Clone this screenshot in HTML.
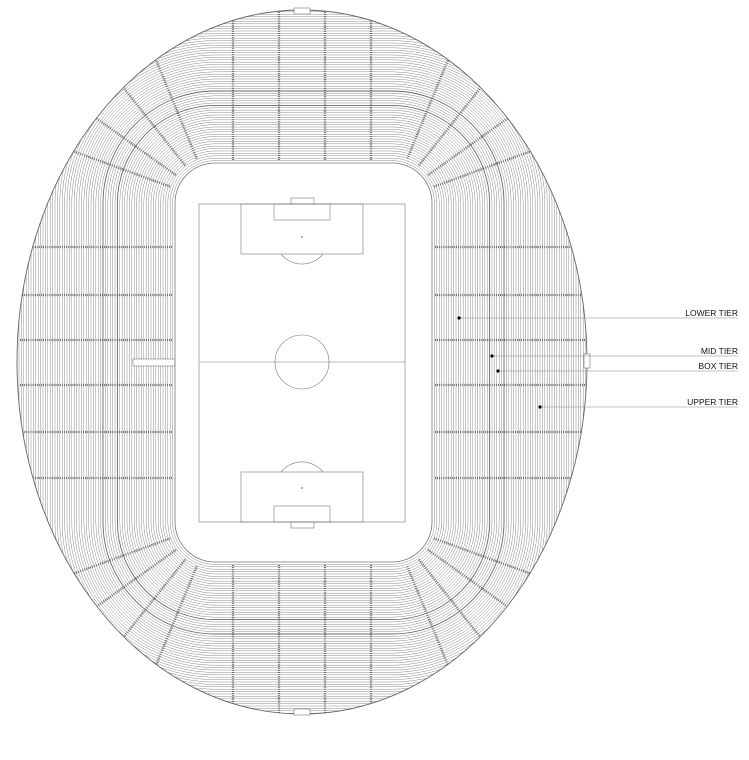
<!DOCTYPE html>
<html><head><meta charset="utf-8"><style>
html,body{margin:0;padding:0;background:#fff;width:749px;height:760px;overflow:hidden}
svg{display:block}
text{font-family:"Liberation Sans",sans-serif;font-size:8.5px;fill:#111}
</style></head><body>
<svg id="s" width="749" height="760" viewBox="0 0 749 760" xmlns="http://www.w3.org/2000/svg">
<defs><clipPath id="cp"><ellipse cx="302" cy="362" rx="285" ry="352"/></clipPath></defs>
<g clip-path="url(#cp)">
<g id="rows" fill="none" stroke="#8a8a8a" stroke-width="0.5"></g>
<g id="aisles" fill="none" stroke="#666" stroke-width="2.3" stroke-dasharray="0.9 1.2"></g>
</g>
<ellipse cx="302" cy="362" rx="285" ry="352" fill="none" stroke="#666" stroke-width="0.9"/>
<g fill="#fff" stroke="#777" stroke-width="0.6">
<rect x="133" y="359" width="42" height="7"/>
<rect x="294" y="8" width="16" height="6"/>
<rect x="294" y="709" width="16" height="6"/>
<rect x="584" y="354" width="6" height="14"/>
</g>
<rect x="175" y="163" width="257" height="399" rx="40" fill="#fff" stroke="#777" stroke-width="0.8"/>
<g fill="none" stroke="#777" stroke-width="0.6">
<rect x="199" y="204" width="206" height="318"/>
<line x1="199" y1="362" x2="405" y2="362"/>
<circle cx="302" cy="362" r="27"/>
<rect x="241" y="204" width="122" height="50"/>
<rect x="274" y="204" width="56" height="16"/>
<rect x="291" y="198" width="23" height="6"/>
<path d="M281 254 A27 27 0 0 0 323 254"/>
<rect x="241" y="472" width="122" height="50"/>
<rect x="274" y="506" width="56" height="16"/>
<rect x="291" y="522" width="23" height="6"/>
<path d="M281 472 A27 27 0 0 1 323 472"/>
</g>
<circle cx="302" cy="237" r="0.8" fill="#555"/>
<circle cx="302" cy="488" r="0.8" fill="#555"/>
<g stroke="#888" stroke-width="0.6">
<line x1="459" y1="318" x2="738" y2="318"/>
<line x1="492" y1="356" x2="738" y2="356"/>
<line x1="498" y1="371" x2="738" y2="371"/>
<line x1="540" y1="407" x2="738" y2="407"/>
</g>
<g fill="#000">
<circle cx="459" cy="318" r="1.6"/><circle cx="492" cy="356" r="1.6"/>
<circle cx="498" cy="371" r="1.6"/><circle cx="540" cy="407" r="1.6"/>
</g>
<text x="738" y="316" text-anchor="end">LOWER TIER</text>
<text x="738" y="354" text-anchor="end">MID TIER</text>
<text x="738" y="369" text-anchor="end">BOX TIER</text>
<text x="738" y="405" text-anchor="end">UPPER TIER</text>
</svg>
<script>
(function(){
var NS="http://www.w3.org/2000/svg";
var rows=document.getElementById("rows");
var x0=175,y0=163,w=257,h=399,r0=40;
for(var d=2.4;d<200;d+=2.4){
 var e=document.createElementNS(NS,"rect");
 e.setAttribute("x",x0-d);e.setAttribute("y",y0-d);e.setAttribute("width",w+2*d);e.setAttribute("height",h+2*d);e.setAttribute("rx",r0+d);
 if(Math.abs(d-57.6)<1||Math.abs(d-72)<1){e.setAttribute("stroke","#666");e.setAttribute("stroke-width","0.9");}
 rows.appendChild(e);}
var ai=document.getElementById("aisles");
function L(a,b,c,dd){var l=document.createElementNS(NS,"line");l.setAttribute("x1",a);l.setAttribute("y1",b);l.setAttribute("x2",c);l.setAttribute("y2",dd);ai.appendChild(l);}
[247,295,340,385,432,478].forEach(function(y){L(20,y,172,y);L(435,y,588,y);});
[233,279,325,371].forEach(function(x){L(x,10,x,160);L(x,565,x,714);});
var cxs=[[215,203],[389,203],[215,522],[389,522]];
cxs.forEach(function(c){var sx=c[0]<300?-1:1,sy=c[1]<300?-1:1;
 [0.35,0.62,0.9,1.18].forEach(function(a){var dx=Math.cos(a)*sx,dy=Math.sin(a)*sy;
  L(c[0]+dx*48,c[1]+dy*48,c[0]+dx*190,c[1]+dy*190);});});
})();
</script>
</body></html>
